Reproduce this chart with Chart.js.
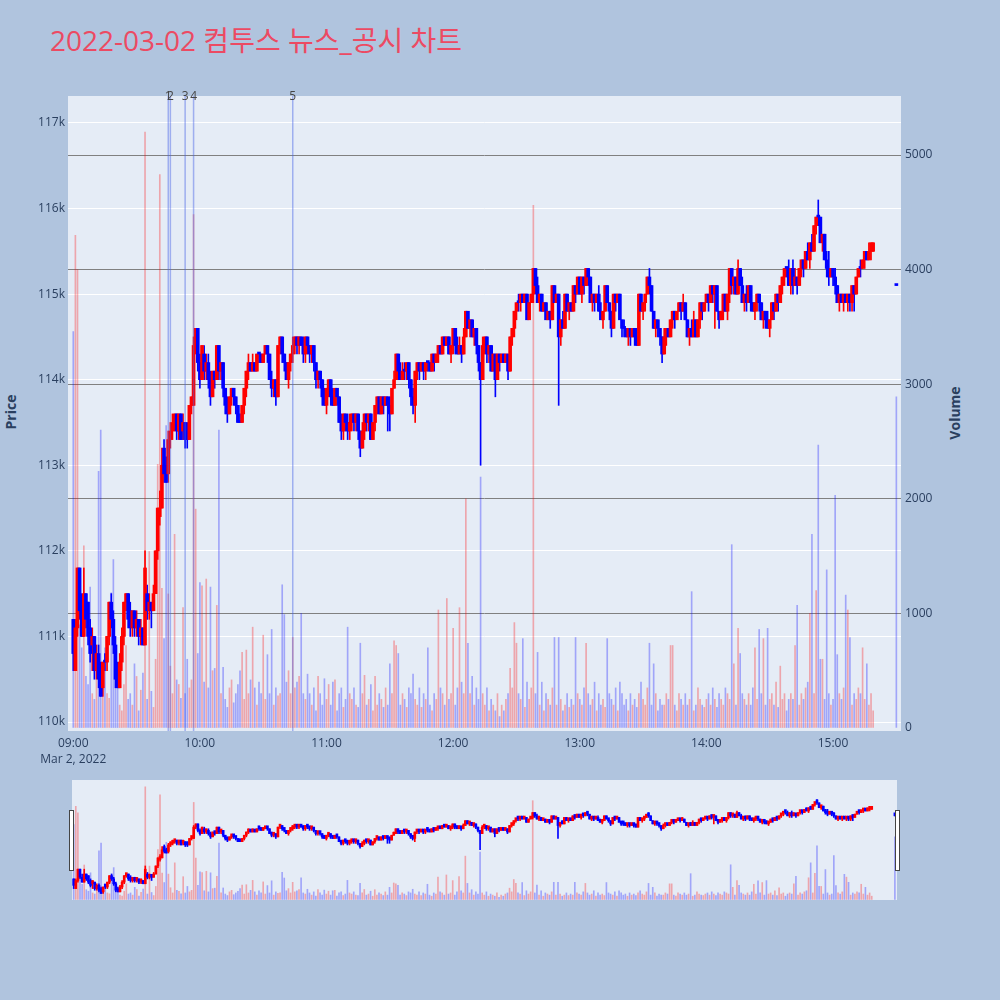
<!DOCTYPE html>
<html>
<head>
<meta charset="utf-8">
<script src="https://cdn.jsdelivr.net/npm/chart.js@4.4.1/dist/chart.umd.min.js"></script>
<style>
  body { margin: 0; background: #b0c4de; }
  #page { position: relative; width: 1000px; height: 1000px; background: #b0c4de; font-family: "Open Sans", "Noto Sans CJK KR", sans-serif; }
  #title { position: absolute; left: 50px; top: 26px; font-size: 28px; line-height: 28px; color: #ec4a63; white-space: nowrap; }
  .axis-title { position: absolute; font-size: 14px; font-weight: bold; color: #2a3f5f; white-space: nowrap; transform: translate(-50%, -50%) rotate(-90deg); }
  #mainChart { position: absolute; left: 0; top: 0; }
  #sliderChart { position: absolute; left: 72px; top: 780px; background: #e5ecf6; }
  .handle { position: absolute; top: 810px; width: 3px; height: 59px; background: #fff; border: 1px solid #444; }
</style>
</head>
<body>
<div id="page">
  <div id="title">2022-03-02 컴투스 뉴스_공시 차트</div>
  <div class="axis-title" style="left:10px; top:412px;">Price</div>
  <div class="axis-title" style="left:954px; top:413px;">Volume</div>
  <canvas id="mainChart" width="1000" height="780"></canvas>
  <canvas id="sliderChart" width="825" height="120"></canvas>
  <div class="handle" style="left:69px;"></div>
  <div class="handle" style="left:895px;"></div>
</div>
<script>
// 1분봉, 가격 단위 100원 (1112 = 111,200원), 09:00부터 한 줄에 10분씩
const PRICE_UNIT = 100;
const closingAuctionMinute = 390; // 15:30 동시호가

const opens = [
  1112,1106,1111,1118,1113,1110,1115,1114,1111,1109,
  1110,1106,1108,1106,1104,1107,1107,1110,1114,1112,
  1109,1106,1104,1107,1110,1114,1115,1113,1111,1113,
  1111,1112,1110,1111,1109,1115,1113,1114,1113,1115,
  1120,1124,1125,1132,1130,1129,1133,1134,1135,1136,
  1134,1136,1134,1135,1134,1133,1137,1137,1144,1146,
  1142,1140,1143,1141,1142,1140,1138,1141,1140,1144,
  1141,1142,1139,1137,1136,1138,1139,1138,1137,1135,
  1135,1137,1139,1141,1142,1141,1142,1141,1143,1143,
  1142,1143,1144,1143,1140,1139,1140,1138,1144,1145,
  1143,1142,1140,1142,1143,1144,1145,1144,1145,1144,
  1143,1145,1144,1143,1144,1142,1140,1141,1140,1138,
  1137,1139,1140,1138,1137,1139,1138,1135,1134,1136,
  1135,1134,1135,1136,1135,1136,1134,1132,1134,1136,
  1135,1136,1133,1135,1137,1138,1136,1138,1137,1138,
  1137,1136,1139,1140,1143,1141,1140,1141,1141,1142,
  1140,1138,1137,1141,1142,1141,1142,1141,1142,1142,
  1141,1143,1142,1143,1144,1143,1145,1144,1145,1143,
  1144,1146,1144,1143,1144,1143,1145,1148,1146,1147,
  1145,1146,1144,1142,1140,1144,1145,1143,1144,1141,
  1143,1140,1143,1142,1143,1142,1143,1141,1145,1146,
  1148,1149,1149,1150,1149,1150,1147,1149,1150,1153,
  1151,1149,1150,1148,1149,1147,1148,1147,1151,1149,
  1150,1145,1147,1146,1150,1148,1149,1148,1151,1150,
  1152,1150,1152,1151,1153,1152,1149,1150,1149,1150,
  1148,1147,1148,1151,1149,1148,1146,1150,1149,1150,
  1147,1146,1146,1145,1146,1145,1146,1145,1144,1150,
  1148,1149,1150,1152,1151,1148,1146,1147,1146,1145,
  1143,1145,1146,1145,1147,1148,1147,1148,1149,1148,
  1149,1147,1145,1146,1145,1147,1145,1147,1149,1148,
  1149,1150,1149,1151,1150,1151,1148,1147,1148,1150,
  1148,1150,1153,1151,1152,1150,1153,1151,1149,1150,
  1149,1151,1149,1148,1149,1150,1149,1147,1148,1147,
  1146,1147,1149,1148,1150,1149,1151,1152,1153,1153,
  1151,1153,1151,1152,1151,1153,1154,1153,1155,1154,
  1156,1155,1158,1159,1159,1156,1157,1154,1153,1152,
  1153,1152,1151,1149,1150,1149,1150,1149,1150,1149,
  1151,1150,1152,1153,1153,1154,1155,1154,1155,1155,
  1151
];
const closes = [
  1108,1111,1118,1113,1110,1115,1112,1110,1108,1110,
  1106,1108,1105,1103,1107,1107,1110,1114,1112,1109,
  1105,1104,1107,1110,1114,1115,1112,1111,1113,1111,
  1112,1110,1111,1109,1118,1113,1114,1113,1115,1120,
  1125,1125,1130,1129,1128,1133,1134,1135,1136,1134,
  1136,1133,1135,1133,1133,1137,1138,1144,1146,1142,
  1140,1144,1141,1142,1140,1138,1141,1140,1144,1141,
  1142,1139,1137,1136,1138,1139,1138,1137,1135,1135,
  1137,1139,1141,1142,1141,1142,1141,1143,1143,1142,
  1143,1144,1143,1140,1139,1140,1138,1144,1145,1143,
  1142,1140,1142,1143,1144,1145,1144,1145,1144,1143,
  1145,1144,1143,1144,1142,1140,1141,1140,1138,1137,
  1139,1140,1138,1137,1139,1138,1135,1134,1136,1135,
  1134,1135,1136,1135,1136,1134,1132,1134,1136,1135,
  1136,1133,1135,1137,1138,1136,1138,1137,1138,1137,
  1136,1139,1140,1143,1141,1140,1141,1141,1142,1140,
  1138,1137,1141,1142,1141,1142,1141,1142,1142,1141,
  1143,1142,1143,1144,1143,1145,1144,1145,1143,1144,
  1146,1144,1143,1144,1143,1145,1148,1146,1147,1145,
  1146,1144,1142,1140,1144,1145,1143,1144,1141,1143,
  1140,1143,1142,1143,1142,1143,1141,1145,1146,1148,
  1149,1149,1150,1149,1150,1147,1149,1150,1153,1151,
  1149,1150,1148,1149,1147,1148,1147,1151,1149,1150,
  1145,1147,1146,1150,1148,1149,1148,1151,1150,1152,
  1150,1152,1151,1153,1152,1149,1150,1149,1150,1148,
  1147,1148,1151,1149,1148,1146,1150,1149,1150,1147,
  1146,1146,1145,1146,1145,1146,1145,1144,1150,1148,
  1149,1150,1152,1151,1148,1146,1147,1146,1145,1143,
  1145,1146,1145,1147,1148,1147,1148,1149,1148,1149,
  1147,1145,1146,1145,1147,1145,1147,1149,1148,1149,
  1150,1149,1151,1150,1151,1148,1147,1148,1150,1148,
  1150,1153,1151,1152,1150,1153,1151,1149,1150,1149,
  1151,1149,1148,1149,1150,1149,1147,1148,1147,1146,
  1147,1149,1148,1150,1149,1151,1152,1153,1153,1151,
  1153,1151,1152,1151,1153,1154,1153,1155,1154,1156,
  1155,1158,1159,1159,1156,1157,1154,1153,1152,1153,
  1152,1151,1149,1150,1149,1150,1149,1150,1149,1151,
  1150,1152,1153,1153,1154,1155,1154,1155,1156,1156,
  1151
];
const highs = [
  1112,1112,1118,1118,1115,1118,1115,1114,1112,1111,
  1110,1109,1109,1107,1107,1108,1110,1114,1115,1113,
  1110,1107,1108,1111,1114,1115,1115,1114,1113,1113,
  1113,1112,1112,1111,1120,1116,1115,1114,1116,1120,
  1125,1127,1132,1133,1131,1134,1135,1136,1136,1136,
  1136,1136,1136,1135,1135,1137,1138,1145,1146,1146,
  1143,1144,1144,1143,1143,1141,1141,1141,1144,1144,
  1142,1142,1139,1138,1138,1139,1139,1138,1137,1136,
  1137,1139,1141,1143,1142,1143,1142,1143,1143,1143,
  1143,1144,1144,1143,1141,1140,1140,1144,1145,1145,
  1143,1142,1142,1143,1145,1145,1145,1145,1145,1145,
  1145,1145,1144,1144,1144,1142,1141,1141,1140,1139,
  1139,1140,1140,1139,1139,1139,1138,1136,1136,1136,
  1136,1136,1136,1136,1136,1136,1134,1135,1136,1136,
  1136,1136,1135,1137,1138,1138,1138,1138,1138,1138,
  1138,1139,1141,1143,1143,1142,1142,1142,1142,1142,
  1140,1139,1141,1142,1142,1142,1142,1142,1142,1142,
  1143,1143,1143,1144,1144,1145,1145,1145,1145,1144,
  1146,1146,1145,1145,1144,1146,1148,1148,1147,1147,
  1146,1146,1144,1142,1145,1145,1145,1144,1144,1143,
  1143,1143,1143,1143,1143,1143,1143,1145,1146,1148,
  1149,1150,1150,1150,1150,1150,1149,1150,1153,1153,
  1152,1150,1150,1149,1149,1148,1148,1151,1151,1150,
  1150,1147,1148,1150,1150,1149,1149,1151,1151,1152,
  1152,1152,1152,1153,1153,1152,1150,1150,1150,1151,
  1149,1148,1151,1151,1149,1148,1150,1150,1150,1150,
  1147,1147,1146,1146,1146,1146,1146,1146,1150,1150,
  1149,1150,1152,1153,1151,1148,1147,1147,1146,1145,
  1146,1146,1146,1147,1148,1148,1148,1149,1149,1150,
  1149,1147,1146,1147,1148,1147,1147,1149,1149,1149,
  1150,1150,1151,1151,1151,1151,1148,1148,1150,1150,
  1150,1153,1153,1152,1152,1154,1153,1152,1150,1151,
  1151,1151,1149,1149,1150,1150,1149,1148,1148,1148,
  1147,1149,1149,1150,1150,1151,1152,1153,1153,1154,
  1153,1154,1153,1152,1153,1154,1154,1155,1156,1156,
  1157,1158,1159,1161,1159,1157,1157,1155,1155,1153,
  1153,1153,1151,1150,1150,1150,1150,1150,1150,1151,
  1151,1152,1153,1154,1154,1155,1155,1156,1156,1156,
  1151
];
const lows = [
  1106,1106,1110,1112,1110,1110,1111,1109,1107,1106,
  1105,1105,1104,1103,1103,1106,1106,1109,1111,1108,
  1104,1104,1104,1106,1109,1113,1111,1110,1110,1110,
  1110,1109,1109,1109,1109,1112,1112,1111,1113,1115,
  1119,1123,1125,1128,1128,1128,1132,1133,1134,1133,
  1133,1133,1133,1132,1132,1133,1136,1137,1143,1141,
  1139,1140,1140,1140,1139,1137,1138,1139,1140,1140,
  1140,1138,1136,1135,1136,1137,1137,1136,1135,1135,
  1135,1136,1138,1140,1141,1141,1141,1141,1142,1142,
  1142,1143,1142,1140,1138,1138,1137,1138,1143,1142,
  1141,1140,1139,1141,1142,1143,1143,1143,1144,1142,
  1142,1143,1142,1142,1141,1139,1139,1139,1137,1137,
  1136,1138,1137,1137,1137,1137,1135,1133,1133,1134,
  1133,1133,1134,1134,1134,1133,1131,1132,1133,1134,
  1134,1133,1133,1134,1136,1136,1136,1136,1137,1134,
  1134,1136,1139,1140,1140,1140,1140,1140,1140,1139,
  1137,1136,1135,1140,1140,1141,1140,1140,1141,1141,
  1141,1141,1142,1142,1143,1143,1144,1144,1143,1142,
  1143,1143,1143,1143,1142,1143,1145,1146,1145,1145,
  1144,1143,1141,1130,1140,1143,1142,1142,1141,1141,
  1138,1140,1141,1142,1142,1142,1140,1141,1144,1145,
  1147,1148,1148,1149,1149,1147,1147,1149,1149,1150,
  1149,1148,1148,1148,1147,1147,1146,1147,1149,1149,
  1137,1144,1146,1146,1148,1147,1148,1148,1149,1150,
  1150,1149,1150,1151,1151,1149,1148,1148,1149,1148,
  1147,1146,1148,1149,1147,1145,1146,1148,1149,1147,
  1145,1145,1145,1144,1144,1145,1144,1144,1144,1148,
  1147,1148,1150,1150,1148,1146,1145,1145,1144,1142,
  1143,1144,1145,1145,1146,1146,1147,1148,1147,1148,
  1147,1145,1144,1145,1145,1145,1145,1146,1147,1148,
  1149,1148,1149,1149,1146,1148,1146,1147,1147,1148,
  1147,1149,1150,1150,1150,1150,1151,1149,1148,1148,
  1149,1148,1148,1147,1148,1148,1147,1146,1146,1146,
  1145,1147,1147,1148,1148,1149,1150,1151,1152,1151,
  1150,1150,1151,1150,1151,1152,1152,1153,1154,1153,
  1155,1155,1157,1158,1156,1155,1154,1152,1151,1152,
  1151,1150,1149,1148,1149,1148,1149,1148,1148,1148,
  1148,1150,1152,1152,1153,1153,1154,1154,1154,1155,
  1151
];
const volumes = [
  3460,4300,4000,900,700,1590,450,380,1230,300,
  250,420,2240,2600,520,700,300,260,1180,1470,
  600,350,200,150,380,720,250,300,200,560,
  450,150,330,480,5200,250,1540,320,180,600,
  2300,4830,1220,780,2640,1170,540,300,1690,420,
  380,260,1050,300,600,350,420,4480,1910,650,
  1270,1240,400,1300,350,1230,500,520,1070,2600,
  300,530,250,180,350,420,220,300,380,500,
  660,250,680,300,420,880,350,200,400,300,
  810,250,640,300,860,200,350,280,300,1250,
  990,400,500,300,790,350,400,450,1000,300,
  250,470,300,200,350,150,450,300,200,430,
  250,380,200,400,420,150,300,350,180,250,
  880,300,250,350,200,180,740,300,460,200,
  250,380,150,450,200,300,250,180,350,200,
  560,300,760,720,650,200,300,250,180,350,
  300,470,250,200,350,180,300,250,700,200,
  150,300,250,1030,350,300,200,1130,250,300,
  870,200,350,1050,400,300,2000,740,300,450,
  200,350,250,2190,300,200,350,150,250,200,
  150,300,100,200,150,250,300,520,350,920,
  740,300,250,780,180,400,250,350,4560,300,
  660,200,400,150,300,250,200,350,790,200,
  790,250,150,200,300,180,250,200,790,300,
  250,200,350,740,300,200,250,400,150,300,
  200,250,180,780,300,250,200,350,150,400,
  300,200,250,150,300,200,250,180,300,400,
  250,200,350,740,200,560,300,150,250,200,
  200,300,250,720,720,200,150,300,250,200,
  300,200,250,1190,150,200,350,250,200,180,
  250,300,200,350,250,180,300,250,200,350,
  300,250,1600,560,200,870,650,300,250,200,
  300,200,350,700,250,860,300,780,200,870,
  250,300,200,400,180,540,250,300,150,250,
  300,250,720,1070,200,300,250,350,400,1000,
  1690,300,1200,2470,600,600,250,1380,300,200,
  250,2030,640,300,250,350,1160,1030,790,200,
  300,250,350,300,700,250,560,200,300,150,
  2890
];

// 축 눈금
const timeTicks = [0, 60, 120, 180, 240, 300, 360];
const timeTickLabels = ['09:00', '10:00', '11:00', '12:00', '13:00', '14:00', '15:00'];
const dateLabel = 'Mar 2, 2022';
const priceTicks = [110000, 111000, 112000, 113000, 114000, 115000, 116000, 117000];
const priceTickLabels = ['110k', '111k', '112k', '113k', '114k', '115k', '116k', '117k'];
const volumeTicks = [0, 1000, 2000, 3000, 4000, 5000];

// 뉴스/공시 시점 (09:00 기준 분)
const newsMinutes = [45, 46, 53, 57, 104];
const newsLabels = ['1', '2', '3', '4', '5'];

const UP = '#ff0000';
const DOWN = '#0000ff';
const UP_VOL = 'rgba(255, 0, 0, 0.3)';
const DOWN_VOL = 'rgba(0, 0, 255, 0.3)';
const TICK_FONT = { family: '"Open Sans", sans-serif', size: 12 };
const TICK_COLOR = '#2a3f5f';

const regularCount = closes.length - 1;
const minuteOf = i => (i < regularCount ? i : closingAuctionMinute);

function isUp(i) {
    if (closes[i] !== opens[i]) return closes[i] > opens[i];
    return i === 0 || closes[i] > closes[i - 1];
}

function buildDatasets(bodyWidth, minBody) {
    const wicks = [], bodies = [], vols = [], colors = [], volColors = [];
    closes.forEach((c, i) => {
        const x = minuteOf(i);
        wicks.push({ x, y: [lows[i] * PRICE_UNIT, highs[i] * PRICE_UNIT] });
        bodies.push({ x, y: [opens[i] * PRICE_UNIT, c * PRICE_UNIT] });
        vols.push({ x, y: volumes[i] });
        colors.push(isUp(i) ? UP : DOWN);
        volColors.push(isUp(i) ? UP_VOL : DOWN_VOL);
    });
    return [
        { data: vols, yAxisID: 'yv', backgroundColor: volColors, barThickness: 1, grouped: false, order: 3 },
        { data: wicks, yAxisID: 'y', backgroundColor: colors, barThickness: 1, grouped: false, order: 2 },
        { data: bodies, yAxisID: 'y', backgroundColor: colors, barThickness: bodyWidth, minBarLength: minBody, grouped: false, order: 1 }
    ];
}

const plotBackground = {
    id: 'plotBackground',
    beforeDraw(chart) {
        const { ctx, chartArea: a } = chart;
        ctx.save();
        ctx.fillStyle = '#e5ecf6';
        ctx.fillRect(a.left, a.top, a.right - a.left, a.bottom - a.top);
        ctx.restore();
    }
};

const newsLines = {
    id: 'newsLines',
    afterDatasetsDraw(chart) {
        const { ctx, chartArea: a, scales: { x } } = chart;
        ctx.save();
        ctx.lineWidth = 1.5;
        ctx.strokeStyle = 'rgba(70, 100, 230, 0.45)';
        ctx.fillStyle = '#444';
        ctx.font = '12px "Open Sans", sans-serif';
        ctx.textAlign = 'center';
        ctx.textBaseline = 'middle';
        newsMinutes.forEach((m, i) => {
            const px = x.getPixelForValue(m);
            ctx.beginPath();
            ctx.moveTo(px, a.top);
            ctx.lineTo(px, a.bottom);
            ctx.stroke();
            ctx.fillText(newsLabels[i], px, a.top + 1);
        });
        ctx.restore();
    }
};

Chart.defaults.font.family = '"Open Sans", sans-serif';

new Chart(document.getElementById('mainChart'), {
    type: 'bar',
    data: { datasets: buildDatasets(3, 2) },
    options: {
        responsive: false,
        animation: false,
        devicePixelRatio: 1,
        layout: { padding: { top: 96, left: 0, right: 0, bottom: 0 } },
        plugins: { legend: { display: false }, tooltip: { enabled: false } },
        scales: {
            x: {
                type: 'linear',
                offset: false,
                min: -2.5,
                max: 392.2,
                grid: { display: false, drawTicks: false },
                border: { display: false },
                afterBuildTicks: axis => { axis.ticks = timeTicks.map(v => ({ value: v })); },
                afterFit: axis => { axis.height = 49; },
                ticks: {
                    maxRotation: 0,
                    autoSkip: false,
                    padding: 4,
                    color: TICK_COLOR,
                    font: { ...TICK_FONT, lineHeight: 1.35 },
                    callback: v => {
                        const k = timeTicks.indexOf(v);
                        return k === 0 ? [timeTickLabels[k], dateLabel] : timeTickLabels[k];
                    }
                }
            },
            y: {
                position: 'left',
                min: 109895,
                max: 117315,
                grid: { color: '#ffffff', lineWidth: 1, drawTicks: false },
                border: { display: false },
                afterBuildTicks: axis => { axis.ticks = priceTicks.map(v => ({ value: v })); },
                afterFit: axis => { axis.width = 68; },
                ticks: {
                    padding: 3,
                    color: TICK_COLOR,
                    font: TICK_FONT,
                    callback: v => priceTickLabels[priceTicks.indexOf(v)]
                }
            },
            yv: {
                position: 'right',
                min: -26,
                max: 5515,
                grid: {
                    color: c => (c.tick && c.tick.value === 0 ? 'rgba(0,0,0,0)' : '#808080'),
                    lineWidth: 1,
                    drawTicks: false
                },
                border: { display: false },
                afterBuildTicks: axis => { axis.ticks = volumeTicks.map(v => ({ value: v })); },
                afterFit: axis => { axis.width = 99; },
                ticks: { padding: 4, color: TICK_COLOR, font: TICK_FONT, callback: v => String(v) }
            }
        }
    },
    plugins: [plotBackground, newsLines]
});

// 하단 range slider 미니 차트
new Chart(document.getElementById('sliderChart'), {
    type: 'bar',
    data: { datasets: buildDatasets(2, 3) },
    options: {
        responsive: false,
        animation: false,
        devicePixelRatio: 1,
        layout: { padding: 0 },
        plugins: { legend: { display: false }, tooltip: { enabled: false } },
        scales: {
            x: { type: 'linear', offset: false, min: -0.8, max: 391, display: false },
            y: { min: 109895, max: 117315, display: false },
            yv: { position: 'right', min: -26, max: 5515, display: false }
        }
    }
});
</script>
</body>
</html>
